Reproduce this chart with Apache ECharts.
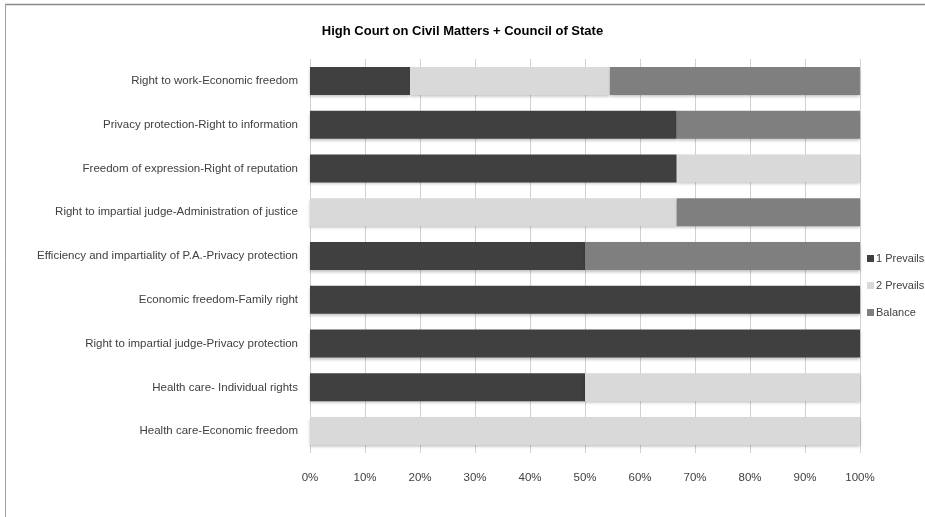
<!DOCTYPE html>
<html><head><meta charset="utf-8">
<script src="https://cdn.jsdelivr.net/npm/echarts@6/dist/echarts.min.js"></script>
<style>html,body{margin:0;padding:0;background:#fff}#c{width:925px;height:517px}</style>
</head><body><div id="c"></div>
<script>
const title = "High Court on Civil Matters + Council of State";
const categories = [
  "Right to work-Economic freedom",
  "Privacy protection-Right to information",
  "Freedom of expression-Right of reputation",
  "Right to impartial judge-Administration of justice",
  "Efficiency and impartiality of P.A.-Privacy protection",
  "Economic freedom-Family right",
  "Right to impartial judge-Privacy protection",
  "Health care- Individual rights",
  "Health care-Economic freedom"
];
const seriesNames = ["1 Prevails", "2 Prevails", "Balance"];
const prevails1 = [18.18, 66.67, 66.67, 0, 50, 100, 100, 50, 0];
const prevails2 = [36.36, 0, 33.33, 66.67, 0, 0, 0, 50, 100];
const balance   = [45.45, 33.33, 0, 33.33, 50, 0, 0, 0, 0];
const tickValues = [0,10,20,30,40,50,60,70,80,90,100];

const FONT = "Liberation Sans, Arial, sans-serif";
const colors = ["#404040", "#d9d9d9", "#7f7f7f"];
const dataSets = [prevails1, prevails2, balance];

const chart = echarts.init(document.getElementById('c'));
chart.setOption({
  animation: false,
  title: {
    text: title, left: 'center', top: 20,
    textStyle: {fontFamily: FONT, fontSize: 13, fontWeight: 'bold', color: '#000'}
  },
  legend: {
    orient: 'vertical', left: 862, top: 248, itemGap: 16,
    itemWidth: 7, itemHeight: 7, icon: 'rect',
    textStyle: {fontFamily: FONT, fontSize: 11, color: '#404040', padding: [0,0,0,-3]},
    data: seriesNames
  },
  grid: {left: 310, right: 65, top: 59, bottom: 64},
  xAxis: {
    type: 'value', min: 0, max: 100, interval: 10,
    axisLine: {show: false}, axisTick: {show: false},
    splitLine: {lineStyle: {color: '#d0d0d0', width: 1}},
    axisLabel: {formatter: v => v + '%', fontFamily: FONT, fontSize: 11.5, color: '#404040', margin: 19}
  },
  yAxis: {
    type: 'category', data: categories, inverse: true,
    axisLine: {show: false}, axisTick: {show: false},
    axisLabel: {fontFamily: FONT, fontSize: 11.5, color: '#404040', margin: 12}
  },
  series: seriesNames.map((n, i) => ({
    name: n, type: 'bar', stack: 'all', barWidth: 28,
    itemStyle: {color: colors[i], shadowColor: 'rgba(0,0,0,0.25)', shadowBlur: 3, shadowOffsetY: 2},
    data: dataSets[i]
  })),
  graphic: [
    {type: 'line', shape: {x1: 5, y1: 4.5, x2: 925, y2: 4.5}, style: {stroke: '#8a8a8a', lineWidth: 1.5}},
    {type: 'line', shape: {x1: 5.5, y1: 4, x2: 5.5, y2: 517}, style: {stroke: '#a0a0a0', lineWidth: 1}}
  ]
});
</script></body></html>
